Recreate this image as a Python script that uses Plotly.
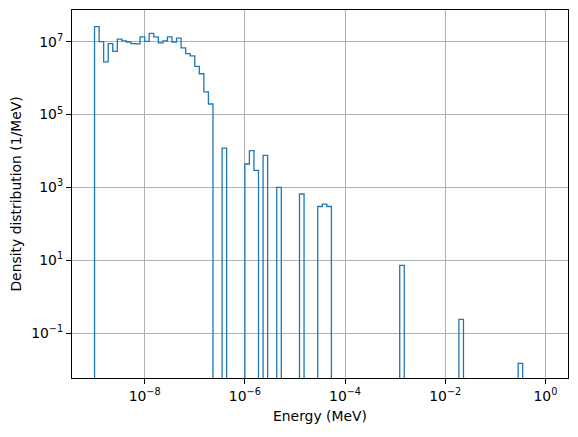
import numpy as np
import plotly.graph_objects as go

# Histogram bins (log-spaced, MeV)
bin_edges = np.logspace(-9, 0, 100)

# Non-empty bins (indices) and their density values (1/MeV)
nonzero_bins = [0, 1, 2, 3, 4, 5, 6, 7, 8, 9, 10, 11, 12, 13, 14, 15, 16, 17, 18,
                19, 20, 21, 22, 23, 24, 25, 28, 33, 34, 35, 37, 40, 45, 49, 50, 51,
                67, 80, 93]
density = [2.6e7, 1.0e7, 2.8e6, 8.9e6, 5.4e6, 1.17e7, 1.05e7, 9.8e6, 8.9e6, 8.7e6,
           1.35e7, 1.02e7, 1.7e7, 1.35e7, 9.3e6, 1.05e7, 1.35e7, 9.8e6, 1.26e7,
           6.8e6, 4.7e6, 4.1e6, 2.1e6, 1.32e6, 4.2e5, 1.95e5,
           1.2e4, 4.4e3, 1.02e4, 2.95e3, 7.6e3, 1.0e3, 6.6e2, 3.0e2, 3.5e2, 3.0e2,
           7.3, 0.24, 0.0148]

x_tickvals = [1e-8, 1e-6, 1e-4, 1e-2, 1e0]
x_ticktext = ["10<sup>−8</sup>", "10<sup>−6</sup>", "10<sup>−4</sup>",
              "10<sup>−2</sup>", "10<sup>0</sup>"]
y_tickvals = [1e-1, 1e1, 1e3, 1e5, 1e7]
y_ticktext = ["10<sup>−1</sup>", "10<sup>1</sup>", "10<sup>3</sup>",
              "10<sup>5</sup>", "10<sup>7</sup>"]

# Build the step outline (like histtype='step')
n_bins = len(bin_edges) - 1
vals = np.zeros(n_bins)
vals[nonzero_bins] = density
floor = 1e-30
v = np.where(vals > 0, vals, floor)
xs = [bin_edges[0]]
ys = [floor]
for i in range(n_bins):
    xs += [bin_edges[i], bin_edges[i + 1]]
    ys += [v[i], v[i]]
xs.append(bin_edges[-1])
ys.append(floor)

fig = go.Figure()
fig.add_trace(go.Scatter(x=xs, y=ys, mode="lines",
                         line=dict(color="#1f77b4", width=1.3),
                         hoverinfo="skip", showlegend=False))

font = dict(family="DejaVu Sans", size=13.9, color="black")
axis_common = dict(
    type="log", ticks="outside", ticklen=5, tickwidth=1.1, tickcolor="black",
    showline=True, linecolor="black", linewidth=1.1, mirror=True,
    showgrid=True, gridcolor="#b0b0b0", gridwidth=1.1, zeroline=False,
    tickfont=font,
)
fig.update_layout(
    width=578, height=437,
    margin=dict(l=72, r=10, t=10, b=59),
    paper_bgcolor="white", plot_bgcolor="white",
    font=font,
    xaxis=dict(range=[-9.45, 0.45], tickvals=x_tickvals, ticktext=x_ticktext,
               title=dict(text="Energy (MeV)", font=font, standoff=8),
               **axis_common),
    yaxis=dict(range=[-2.23, 7.87], tickvals=y_tickvals, ticktext=y_ticktext,
               title=dict(text="Density distribution (1/MeV)", font=font, standoff=6),
               **axis_common),
)
fig.write_html("out.html")
